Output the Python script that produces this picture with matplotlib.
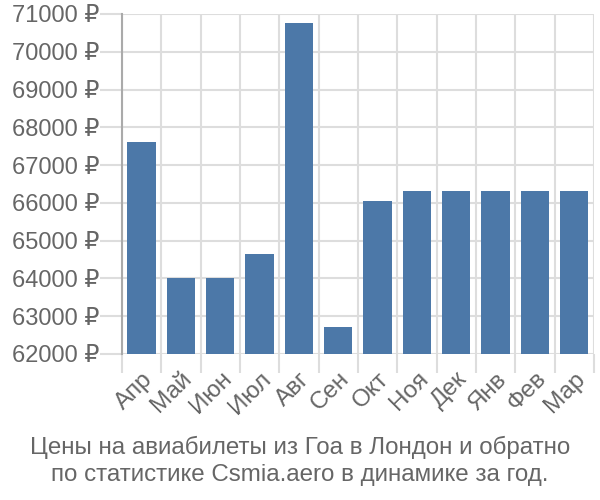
import matplotlib
matplotlib.use("Agg")
import matplotlib.pyplot as plt
import numpy as np

months = ["Апр", "Май", "Июн", "Июл", "Авг", "Сен", "Окт", "Ноя", "Дек", "Янв", "Фев", "Мар"]
prices = [67620, 64010, 64010, 64660, 70770, 62720, 66040, 66320, 66320, 66320, 66320, 66320]
yticks = list(range(62000, 71001, 1000))
title = "Цены на авиабилеты из Гоа в Лондон и обратно\nпо статистике Csmia.aero в динамике за год."

plt.rcParams["font.family"] = ["Liberation Sans", "DejaVu Sans"]
text_color = "#666666"
grid_color = "#dddddd"
bar_color = "#4c78a8"

fig = plt.figure(figsize=(6, 5), dpi=100)
ax = fig.add_axes([0.203, 0.292, 0.787, 0.68])

x = np.arange(len(months))
ax.bar(x, [p - 62000 for p in prices], bottom=62000, width=0.72, color=bar_color, zorder=3)

ax.set_xlim(-0.5, len(months) - 0.5)
ax.set_ylim(62000, 71000)

# boundaries as major ticks (gridlines), centers as minor ticks (labels)
ax.set_xticks(np.arange(len(months) + 1) - 0.5)
ax.set_xticklabels([])
ax.set_xticks(x, minor=True)
ax.set_xticklabels(months, minor=True, rotation=45, ha="right", rotation_mode="anchor",
                   fontsize=17.5, color=text_color)
ax.tick_params(axis="x", which="minor", length=0, pad=10)
ax.tick_params(axis="x", which="major", length=14, width=1.5, color=grid_color)

ax.set_yticks(yticks)
ax.set_yticklabels([f"{v} ₽" for v in yticks], fontsize=17, color=text_color)
ax.tick_params(axis="y", length=16, width=1.5, color=grid_color, pad=0)

ax.grid(True, which="major", color=grid_color, linewidth=1.5, zorder=0)
for s in ["top", "right", "bottom"]:
    ax.spines[s].set_visible(False)
ax.spines["left"].set_color("#aaaaaa")
ax.spines["left"].set_linewidth(1.5)
ax.get_xticklines()[0].set_color("#aaaaaa")

fig.text(0.5, 0.078, title, ha="center", va="center", fontsize=17.4, color=text_color,
         linespacing=1.25)

fig.savefig("out.png", dpi=100)
